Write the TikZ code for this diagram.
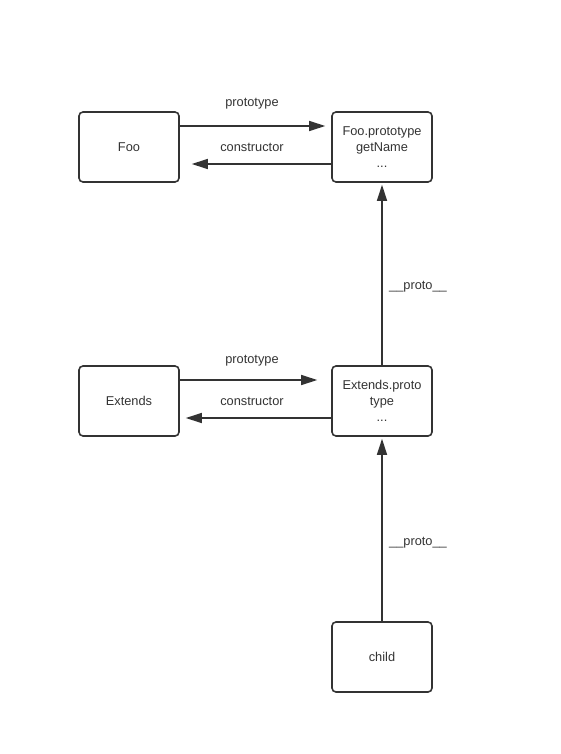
\documentclass[tikz,border=0pt]{standalone}
\usepackage{fontspec}
\setmainfont{Liberation Sans}
\usetikzlibrary{arrows.meta}
\definecolor{ln}{HTML}{333333}
\begin{document}
\begin{tikzpicture}[x=1pt,y=-1pt,
  box/.style={draw=ln,line width=1.6pt,rounded corners=4pt,minimum width=100pt,minimum height=70pt,inner sep=0pt,align=center,font=\fontsize{12.8}{16}\selectfont,text=ln},
  lbl/.style={font=\fontsize{12.8}{16}\selectfont,inner sep=0pt,text=ln},
  arr/.style={draw=ln,line width=1.6pt,-{Triangle[length=16pt,width=10pt]}}]
\useasboundingbox (0,0) rectangle (561,754);
\node[box] (foo) at (129,147) {Foo};
\node[box] (fp) at (382,147) {Foo.prototype\\getName\\...};
\node[box] (ext) at (129,401) {Extends};
\node[box] (ep) at (382,401) {Extends.proto\\type\\...};
\node[box] (child) at (382,657) {child};
\draw[arr,shorten >=6pt] ([yshift=21pt]foo.east) -- ([yshift=21pt]fp.west);
\draw[arr,shorten >=12pt] ([yshift=-17pt]fp.west) -- ([yshift=-17pt]foo.east);
\draw[arr,shorten >=14pt] ([yshift=21pt]ext.east) -- ([yshift=21pt]ep.west);
\draw[arr,shorten >=6pt] ([yshift=-17pt]ep.west) -- ([yshift=-17pt]ext.east);
\draw[arr,shorten >=2pt] (ep.north) -- (fp.south);
\draw[arr,shorten >=2pt] (child.north) -- (ep.south);
\node[lbl] (l1) at (252,104) {prototype};
\node[lbl] (l2) at (252,147) {constructor};
\node[lbl] (l3) at (252,361) {prototype};
\node[lbl] (l4) at (252,401) {constructor};
\node[lbl] (l5) at (418,287) {\_\_proto\_\_};
\node[lbl] (l6) at (418,543) {\_\_proto\_\_};
\end{tikzpicture}
\end{document}
